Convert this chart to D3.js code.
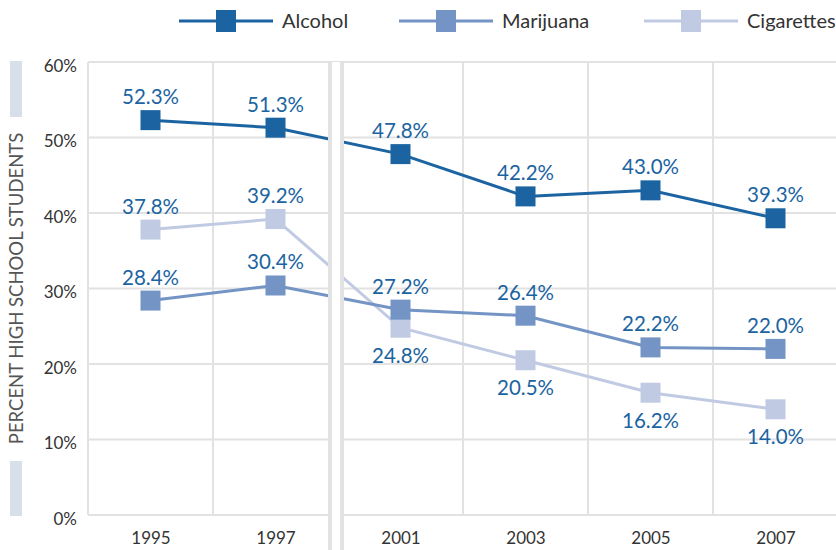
<!DOCTYPE html>
<html>
<head>
<meta charset="utf-8">
<script src="https://cdn.jsdelivr.net/npm/d3@7"></script>
<style>
  body { margin: 0; background: #fff; }
  svg text { font-family: Lato, "Open Sans", sans-serif; }
</style>
</head>
<body>
<div id="chart"></div>
<script>
// data
var years = ["1995", "1997", "2001", "2003", "2005", "2007"];
var alcohol = [52.3, 51.3, 47.8, 42.2, 43.0, 39.3];
var marijuana = [28.4, 30.4, 27.2, 26.4, 22.2, 22.0];
var cigarettes = [37.8, 39.2, 24.8, 20.5, 16.2, 14.0];
var yTicks = [0, 10, 20, 30, 40, 50, 60];

// label above (true) or below (false) the marker
var cigAbove = [true, true, false, false, false, false];

var series = [
  { name: "Cigarettes", values: cigarettes, color: "#c0cbe3", above: cigAbove },
  { name: "Marijuana", values: marijuana, color: "#7394c4", above: years.map(function () { return true; }) },
  { name: "Alcohol", values: alcohol, color: "#1b64a1", above: years.map(function () { return true; }) }
];

var W = 836, H = 550;
var margin = { left: 88, right: 838, top: 62, bottom: 515 };

var svg = d3.select("#chart").append("svg")
  .attr("width", W)
  .attr("height", H);

var xx = d3.scalePoint().domain(years).range([margin.left, margin.right]).padding(0.5);
var yy = d3.scaleLinear().domain([0, 60]).range([margin.bottom, margin.top]);
var step = xx.step();

// grid
var grid = svg.append("g");
grid.selectAll(".hgrid").data(yTicks).enter().append("line")
  .attr("x1", margin.left).attr("x2", W)
  .attr("y1", function (d) { return yy(d); })
  .attr("y2", function (d) { return yy(d); })
  .attr("stroke", "#e2e2e2").attr("stroke-width", 2);

var bounds = years.map(function (d) { return xx(d) - step / 2; });
grid.selectAll(".vgrid").data(bounds).enter().append("line")
  .attr("x1", function (d) { return d; })
  .attr("x2", function (d) { return d; })
  .attr("y1", margin.top).attr("y2", margin.bottom)
  .attr("stroke", "#e2e2e2").attr("stroke-width", 2);

// y axis ticks
var yAxis = svg.append("g")
  .attr("transform", "translate(" + (margin.left - 8) + ",4)")
  .call(d3.axisLeft(yy).tickValues(yTicks).tickSize(0).tickFormat(function (d) { return d + "%"; }));
yAxis.select(".domain").remove();
yAxis.selectAll("text").attr("font-size", 17).attr("fill", "#333")
  .style("font-family", "Lato, sans-serif");

// x axis ticks
var xAxis = svg.append("g")
  .attr("transform", "translate(0," + (margin.bottom + 14) + ")")
  .call(d3.axisBottom(xx).tickSize(0));
xAxis.select(".domain").remove();
xAxis.selectAll("text").attr("font-size", 17).attr("fill", "#333")
  .style("font-family", "Lato, sans-serif");

// y label with decorative bars
svg.append("rect").attr("x", 10).attr("y", 61).attr("width", 12).attr("height", 56).attr("fill", "#d7dfeb");
svg.append("rect").attr("x", 10).attr("y", 461).attr("width", 12).attr("height", 55).attr("fill", "#d7dfeb");
svg.append("text")
  .attr("transform", "translate(23," + ((margin.top + margin.bottom) / 2) + ") rotate(-90)")
  .attr("text-anchor", "middle")
  .attr("font-size", 18.5)
  .attr("fill", "#555")
  .text("PERCENT HIGH SCHOOL STUDENTS");

// lines
var line = d3.line()
  .x(function (d, i) { return xx(years[i]); })
  .y(function (d) { return yy(d); });

series.forEach(function (s) {
  svg.append("path")
    .datum(s.values)
    .attr("fill", "none")
    .attr("stroke", s.color)
    .attr("stroke-width", 3)
    .attr("d", line);
});

// axis break between 1997 and 2001
var bx = (xx("1997") + xx("2001")) / 2;
svg.append("rect").attr("x", bx - 10).attr("y", margin.top).attr("width", 16).attr("height", H - margin.top).attr("fill", "#fff");
svg.append("rect").attr("x", bx - 10).attr("y", margin.top).attr("width", 4).attr("height", H - margin.top).attr("fill", "#e2e2e2");
svg.append("rect").attr("x", bx + 2).attr("y", margin.top).attr("width", 4).attr("height", H - margin.top).attr("fill", "#e2e2e2");

// markers and labels
series.forEach(function (s) {
  var g = svg.append("g");
  g.selectAll("rect").data(s.values).enter().append("rect")
    .attr("x", function (d, i) { return xx(years[i]) - 10; })
    .attr("y", function (d) { return yy(d) - 10; })
    .attr("width", 20).attr("height", 20)
    .attr("fill", s.color);
});
series.forEach(function (s) {
  svg.append("g").selectAll("text").data(s.values).enter().append("text")
    .attr("x", function (d, i) { return xx(years[i]); })
    .attr("y", function (d, i) { return s.above[i] ? yy(d) - 16 : yy(d) + 35; })
    .attr("text-anchor", "middle")
    .attr("font-size", 20.5)
    .attr("fill", "#1b64a1")
    .text(function (d) { return d.toFixed(1) + "%"; });
});

// legend
var legendItems = [
  { name: "Alcohol", color: "#1b64a1", x: 179 },
  { name: "Marijuana", color: "#7394c4", x: 399 },
  { name: "Cigarettes", color: "#c0cbe3", x: 644 }
];
var lg = svg.append("g").selectAll("g").data(legendItems).enter().append("g")
  .attr("transform", function (d) { return "translate(" + d.x + ",21)"; });
lg.append("line").attr("x1", 0).attr("x2", 94).attr("y1", 0).attr("y2", 0)
  .attr("stroke", function (d) { return d.color; }).attr("stroke-width", 3);
lg.append("rect").attr("x", 37).attr("y", -11).attr("width", 20).attr("height", 22)
  .attr("fill", function (d) { return d.color; });
lg.append("text").attr("x", 103).attr("y", 0).attr("dy", "0.35em")
  .attr("font-size", 20).attr("fill", "#333")
  .text(function (d) { return d.name; });
</script>
</body>
</html>
